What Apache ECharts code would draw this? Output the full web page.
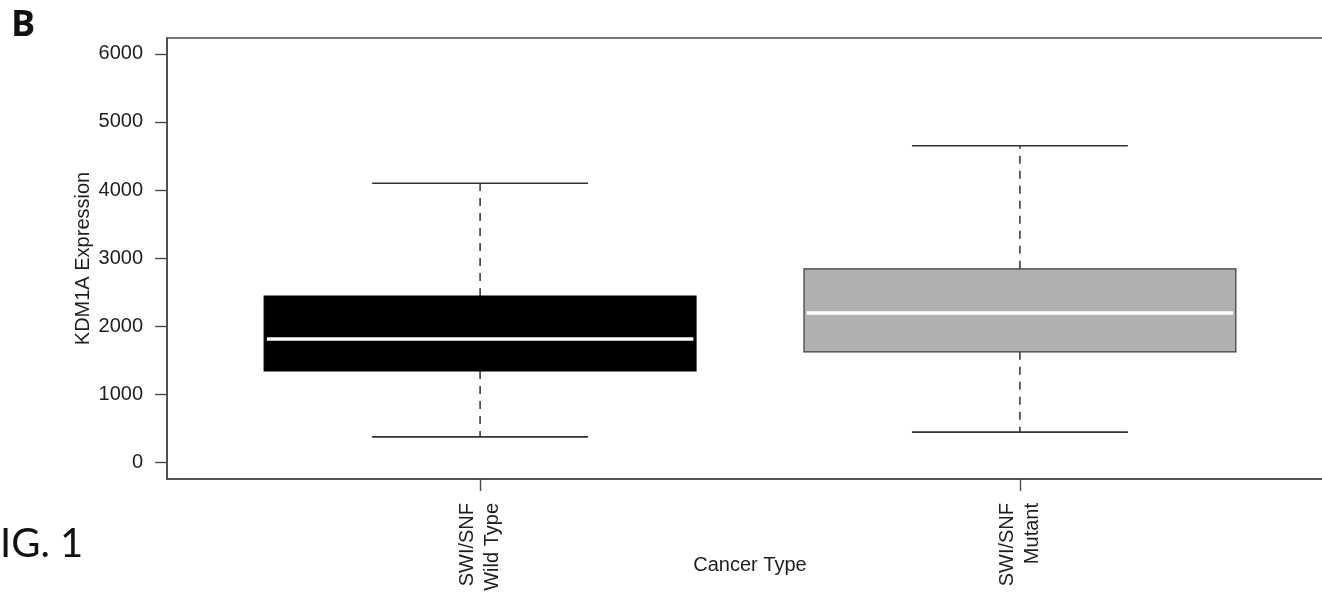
<!DOCTYPE html>
<html>
<head>
<meta charset="utf-8">
<script src="https://cdn.jsdelivr.net/npm/echarts@6/dist/echarts.min.js"></script>
<style>
  html, body { margin: 0; padding: 0; background: #ffffff; }
  #chart { width: 1322px; height: 593px; }
</style>
</head>
<body>
<div id="chart"></div>
<script>
// Groups on the x axis (positions 1 and 2)
const categories = ['SWI/SNF\nWild Type', 'SWI/SNF\nMutant'];
// Five-number summaries of KDM1A expression per group
const whiskerLow  = [370, 440];
const quartile1   = [1340, 1620];
const medians     = [1810, 2190];
const quartile3   = [2440, 2840];
const whiskerHigh = [4100, 4650];
// Y tick labels
const yTicks = [0, 1000, 2000, 3000, 4000, 5000, 6000];

const boxFills = ['#000000', '#b0b0b0'];
const boxBorders = ['#000000', '#3a3a3a'];

const boxData = categories.map((c, i) => [
  i + 1, whiskerLow[i], quartile1[i], medians[i], quartile3[i], whiskerHigh[i]
]);

const FONT = '"Liberation Sans", Arial, Helvetica, sans-serif';
const INK = '#1e1e1e';
const FRAME = '#4a4a4a';

function renderBox(params, api) {
  const i = params.dataIndex;
  const x = api.value(0);
  const lo = api.value(1), q1 = api.value(2), md = api.value(3), q3 = api.value(4), hi = api.value(5);
  const halfBox = 0.4, halfCap = 0.2;
  const c = (xx, yy) => api.coord([xx, yy]);
  const tl = c(x - halfBox, q3), br = c(x + halfBox, q1);
  const dashStyle = { stroke: '#222', lineWidth: 1.4, lineDash: [8, 7] };
  const solid = { stroke: '#333', lineWidth: 1.6 };
  const line = (a, b, style) => ({
    type: 'line', shape: { x1: a[0], y1: a[1], x2: b[0], y2: b[1] }, style: style
  });
  return {
    type: 'group',
    children: [
      line(c(x, q3), c(x, hi), dashStyle),
      line(c(x, q1), c(x, lo), dashStyle),
      line(c(x - halfCap, hi), c(x + halfCap, hi), solid),
      line(c(x - halfCap, lo), c(x + halfCap, lo), solid),
      {
        type: 'rect',
        shape: { x: tl[0], y: tl[1], width: br[0] - tl[0], height: br[1] - tl[1] },
        style: { fill: boxFills[i], stroke: boxBorders[i], lineWidth: 1.2 }
      },
      line(c(x - halfBox + 0.005, md), c(x + halfBox - 0.005, md), { stroke: '#ffffff', lineWidth: 3.5 })
    ]
  };
}

const chart = echarts.init(document.getElementById('chart'), null, { renderer: 'canvas' });
chart.setOption({
  animation: false,
  backgroundColor: '#ffffff',
  grid: {
    left: 167, top: 38, width: 1166, height: 441,
    outerBoundsMode: 'none',
    containLabel: false,
    show: true, borderColor: FRAME, borderWidth: 1.6, backgroundColor: 'transparent'
  },
  xAxis: {
    type: 'value',
    min: 0.42, max: 2.58,
    name: 'Cancer Type',
    nameLocation: 'middle',
    nameGap: 76,
    nameMoveOverlap: false,
    nameTextStyle: { fontFamily: FONT, fontSize: 20, color: INK },
    axisLine: { show: true, onZero: false, lineStyle: { color: FRAME, width: 1.6 } },
    axisTick: { show: true, length: 12, inside: false, customValues: [1, 2], lineStyle: { color: FRAME, width: 1.4 } },
    axisLabel: {
      show: true,
      customValues: [1, 2],
      rotate: 90,
      margin: 24,
      fontFamily: FONT, fontSize: 20, color: INK, lineHeight: 25,
      formatter: v => categories[Math.round(v) - 1] || ''
    },
    splitLine: { show: false }
  },
  yAxis: {
    type: 'value',
    min: -250, max: 6235,
    name: 'KDM1A Expression',
    nameLocation: 'middle',
    nameGap: 74,
    nameRotate: 90,
    nameMoveOverlap: false,
    nameTextStyle: { fontFamily: FONT, fontSize: 20, color: INK },
    axisLine: { show: true, onZero: false, lineStyle: { color: FRAME, width: 1.6 } },
    axisTick: { show: true, length: 12, inside: false, customValues: yTicks, lineStyle: { color: FRAME, width: 1.4 } },
    axisLabel: {
      show: true,
      customValues: yTicks,
      margin: 24,
      fontFamily: FONT, fontSize: 20, color: INK,
      formatter: v => String(v)
    },
    splitLine: { show: false }
  },
  graphic: [
    {
      type: 'text', left: 11, top: 8,
      style: { text: 'B', font: 'bold 36px "Open Sans", Lato, sans-serif', fill: '#111' }
    },
    {
      type: 'text', left: 0, top: 524,
      style: { text: 'IG. 1', font: '40px Lato, "Open Sans", sans-serif', fill: '#111' }
    }
  ],
  series: [{
    type: 'custom',
    renderItem: renderBox,
    encode: { x: 0, y: [1, 2, 3, 4, 5] },
    data: boxData,
    clip: false
  }]
});
</script>
</body>
</html>
